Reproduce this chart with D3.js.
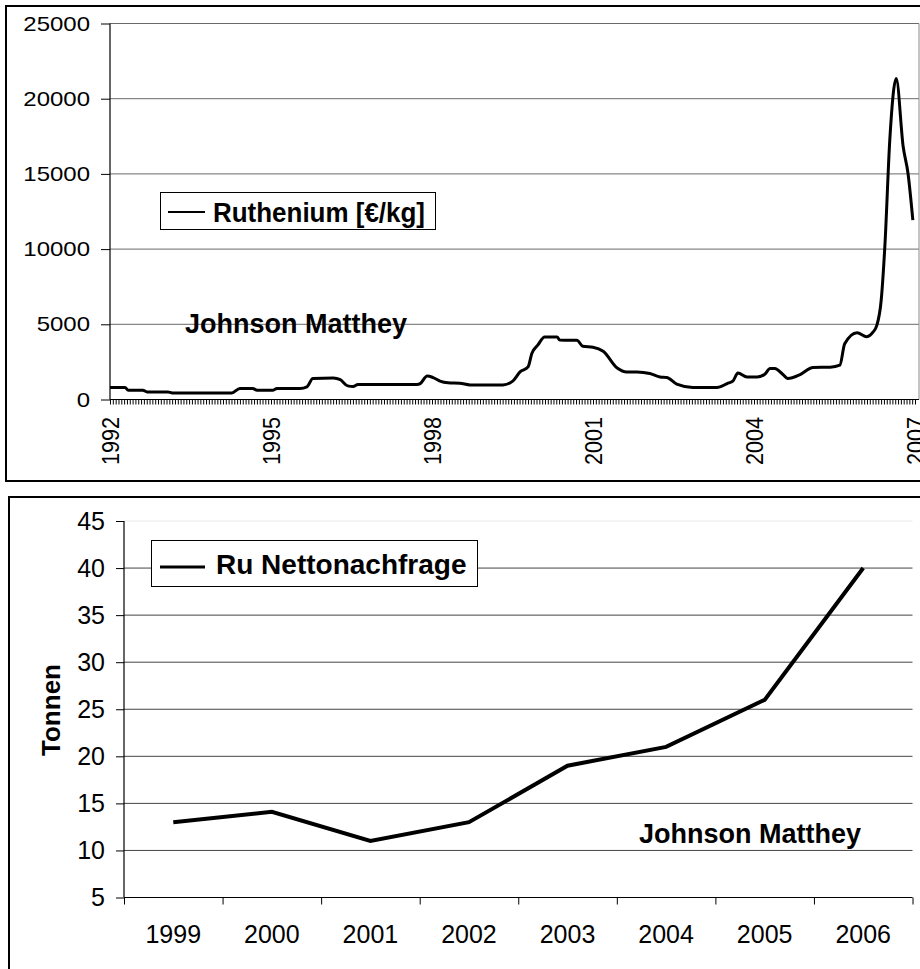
<!DOCTYPE html>
<html>
<head>
<meta charset="utf-8">
<script src="https://cdn.jsdelivr.net/npm/d3@7"></script>
<style>
  body { margin: 0; background: #fff; }
  svg { display: block; font-family: "Liberation Sans", Arial, sans-serif; }
</style>
</head>
<body>
<div id="visualization"></div>
<script>
// ---- top chart: ruthenium price, x = fractional year
const ruYears = [1992.00, 1992.28, 1992.34, 1992.61, 1992.69, 1993.08, 1993.16, 1994.27, 1994.42, 1994.66,
  1994.74, 1995.04, 1995.11, 1995.54, 1995.67, 1995.78, 1996.16, 1996.29, 1996.43, 1996.53,
  1996.62, 1997.72, 1997.78, 1997.91, 1998.02, 1998.15, 1998.30, 1998.52, 1998.71, 1999.32,
  1999.51, 1999.64, 1999.79, 1999.86, 1999.97, 2000.10, 2000.33, 2000.38, 2000.70, 2000.81,
  2001.00, 2001.19, 2001.45, 2001.63, 2001.82, 2002.06, 2002.25, 2002.38, 2002.56, 2002.86,
  2003.31, 2003.50, 2003.61, 2003.70, 2003.87, 2004.06, 2004.20, 2004.30, 2004.39, 2004.52,
  2004.63, 2004.86, 2005.10, 2005.42, 2005.60, 2005.69, 2005.92, 2006.10, 2006.22, 2006.29,
  2006.37, 2006.44, 2006.53, 2006.65, 2006.78, 2006.87, 2006.96];
const ruPrices = [800, 800, 620, 620, 505, 505, 440, 440, 730, 730,
  620, 620, 730, 730, 840, 1400, 1430, 1320, 905, 870,
  1000, 1000, 1060, 1570, 1460, 1220, 1110, 1080, 970, 970,
  1240, 1835, 2170, 3060, 3610, 4160, 4160, 3950, 3940, 3540,
  3480, 3210, 2100, 1835, 1835, 1730, 1500, 1460, 1020, 800,
  800, 1060, 1240, 1770, 1500, 1500, 1680, 2060, 2060, 1730,
  1400, 1660, 2130, 2150, 2280, 3700, 4440, 4180, 4490, 4940,
  6600, 10300, 17240, 21340, 16800, 15030, 11920];
const priceTicks = [0, 5000, 10000, 15000, 20000, 25000];
const yearTicks = [1992, 1995, 1998, 2001, 2004, 2007];

// ---- bottom chart: net demand
const demandYears = ["1999", "2000", "2001", "2002", "2003", "2004", "2005", "2006"];
const demandTonnes = [13, 14.1, 11, 13, 19, 21, 26, 40];
const demandTicks = [5, 10, 15, 20, 25, 30, 35, 40, 45];

const svg = d3.select("#visualization")
  .append("svg")
  .attr("width", 920)
  .attr("height", 969);

// ================= TOP CHART =================
svg.append("rect")
  .attr("x", 6).attr("y", 6)
  .attr("width", 940).attr("height", 475)
  .attr("fill", "none").attr("stroke", "#000").attr("stroke-width", 2);

const xTop = d3.scaleLinear([1992, 2007], [110, 915]);
const yTop = d3.scaleLinear([0, 25000], [399.5, 23.5]);
const topRight = 919;

// gridlines
svg.append("g")
  .selectAll("line")
  .data(priceTicks.filter(d => d > 0))
  .enter()
  .append("line")
  .attr("x1", 110).attr("x2", topRight)
  .attr("y1", d => yTop(d)).attr("y2", d => yTop(d))
  .attr("stroke", "#6a6a6a");

// right border of plot
svg.append("line")
  .attr("x1", topRight).attr("x2", topRight)
  .attr("y1", yTop(25000)).attr("y2", yTop(0))
  .attr("stroke", "#8a8a8a");

// y axis
const yAxisTop = svg.append("g")
  .attr("transform", "translate(110,0)")
  .call(d3.axisLeft(yTop).tickValues(priceTicks).tickSize(9).tickPadding(11).tickFormat(d => d));
yAxisTop.select(".domain").remove();
yAxisTop.selectAll("line").attr("stroke", "#000");
yAxisTop.selectAll("text")
  .attr("transform", "scale(1,0.85)")
  .style("font-size", "24px")
  .style("fill", "#000");
svg.append("line")
  .attr("x1", 110).attr("x2", 110)
  .attr("y1", yTop(25000)).attr("y2", yTop(0))
  .attr("stroke", "#000").attr("stroke-width", 1.2);

// x axis: minor ticks
const minorTicks = d3.range(1992, 2007.001, 1 / 19);
const xMinor = svg.append("g")
  .attr("transform", `translate(0,${yTop(0)})`)
  .call(d3.axisBottom(xTop).tickValues(minorTicks).tickSize(5).tickFormat(""));
xMinor.select(".domain").remove();
xMinor.selectAll("line").attr("stroke", "#000");

// x axis: year labels (rotated)
const xAxisTop = svg.append("g")
  .attr("transform", `translate(0,${yTop(0)})`)
  .call(d3.axisBottom(xTop).tickValues(yearTicks).tickSize(0).tickFormat(d3.format("d")));
xAxisTop.select(".domain").remove();
xAxisTop.selectAll("text")
  .attr("transform", "scale(1,0.9) rotate(-90)")
  .attr("x", -19.5)
  .attr("y", 0)
  .attr("dy", "0.35em")
  .style("text-anchor", "end")
  .style("font-size", "24px")
  .style("fill", "#000");

svg.append("line")
  .attr("x1", 110).attr("x2", topRight)
  .attr("y1", yTop(0)).attr("y2", yTop(0))
  .attr("stroke", "#000").attr("stroke-width", 1.2);

// price line
const priceLine = d3.line()
  .x((d, i) => xTop(ruYears[i]))
  .y(d => yTop(d))
  .curve(d3.curveMonotoneX);

svg.append("path")
  .datum(ruPrices)
  .attr("d", priceLine)
  .attr("fill", "none")
  .attr("stroke", "#000")
  .attr("stroke-width", 3)
  .attr("stroke-linejoin", "round");

// legend
svg.append("rect")
  .attr("x", 160.5).attr("y", 192.5)
  .attr("width", 275).attr("height", 37)
  .attr("fill", "#fff").attr("stroke", "#000");
svg.append("line")
  .attr("x1", 168).attr("x2", 205)
  .attr("y1", 212).attr("y2", 212)
  .attr("stroke", "#000").attr("stroke-width", 2);
svg.append("text")
  .attr("x", 213).attr("y", 222)
  .attr("textLength", 212)
  .attr("lengthAdjust", "spacingAndGlyphs")
  .style("font-size", "27px").style("font-weight", "bold")
  .text("Ruthenium [€/kg]");

svg.append("text")
  .attr("x", 185).attr("y", 333)
  .style("font-size", "27px").style("font-weight", "bold")
  .text("Johnson Matthey");

// ================= BOTTOM CHART =================
svg.append("rect")
  .attr("x", 9).attr("y", 497)
  .attr("width", 940).attr("height", 500)
  .attr("fill", "none").attr("stroke", "#000").attr("stroke-width", 2);

const xBot = d3.scaleBand(demandYears, [124, 912.5]);
const yBot = d3.scaleLinear([5, 45], [897.5, 521]);

// gridlines
svg.append("g")
  .selectAll("line")
  .data(demandTicks.filter(d => d > 5))
  .enter()
  .append("line")
  .attr("x1", 124).attr("x2", 912.5)
  .attr("y1", d => yBot(d)).attr("y2", d => yBot(d))
  .attr("stroke", d => d === 45 ? "#e8e8e8" : "#444");

// y axis
const yAxisBot = svg.append("g")
  .attr("transform", "translate(124,0)")
  .call(d3.axisLeft(yBot).tickValues(demandTicks).tickSize(8).tickPadding(11));
yAxisBot.select(".domain").remove();
yAxisBot.selectAll("line").attr("stroke", "#000");
yAxisBot.selectAll("text")
  .style("font-size", "25px")
  .style("fill", "#000");
svg.append("line")
  .attr("x1", 124).attr("x2", 124)
  .attr("y1", yBot(45)).attr("y2", yBot(5))
  .attr("stroke", "#000").attr("stroke-width", 1.2);

// x axis: tick marks between categories
const xEdges = d3.scaleLinear([0, demandYears.length], [124, 912.5]);
const xTickBot = svg.append("g")
  .attr("transform", `translate(0,${yBot(5)})`)
  .call(d3.axisBottom(xEdges).tickValues(d3.range(demandYears.length + 1)).tickSize(7).tickFormat(""));
xTickBot.select(".domain").remove();
xTickBot.selectAll("line").attr("stroke", "#000");

// x axis labels
const xAxisBot = svg.append("g")
  .attr("transform", `translate(0,${yBot(5)})`)
  .call(d3.axisBottom(xBot).tickSize(0).tickPadding(28));
xAxisBot.select(".domain").remove();
xAxisBot.selectAll("text")
  .style("font-size", "25px")
  .style("fill", "#000");

svg.append("line")
  .attr("x1", 124).attr("x2", 912.5)
  .attr("y1", yBot(5)).attr("y2", yBot(5))
  .attr("stroke", "#000").attr("stroke-width", 1.2);

// demand line
const demandLine = d3.line()
  .x((d, i) => xBot(demandYears[i]) + xBot.bandwidth() / 2)
  .y(d => yBot(d));

svg.append("path")
  .datum(demandTonnes)
  .attr("d", demandLine)
  .attr("fill", "none")
  .attr("stroke", "#000")
  .attr("stroke-width", 4);

// Y label
svg.append("text")
  .attr("transform", "translate(60,710) rotate(-90)")
  .style("text-anchor", "middle")
  .style("font-size", "26px").style("font-weight", "bold")
  .text("Tonnen");

// legend
svg.append("rect")
  .attr("x", 151.5).attr("y", 540.5)
  .attr("width", 326).attr("height", 46)
  .attr("fill", "#fff").attr("stroke", "#000");
svg.append("line")
  .attr("x1", 160).attr("x2", 205)
  .attr("y1", 567).attr("y2", 567)
  .attr("stroke", "#000").attr("stroke-width", 3);
svg.append("text")
  .attr("x", 216).attr("y", 574)
  .style("font-size", "28px").style("font-weight", "bold")
  .text("Ru Nettonachfrage");

svg.append("text")
  .attr("x", 639).attr("y", 843)
  .style("font-size", "27px").style("font-weight", "bold")
  .text("Johnson Matthey");
</script>
</body>
</html>
